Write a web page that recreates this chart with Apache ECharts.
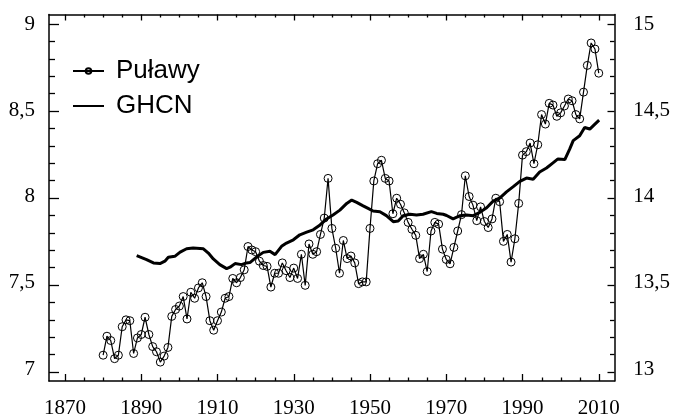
<!DOCTYPE html>
<html>
<head>
<meta charset="utf-8">
<script src="https://cdn.jsdelivr.net/npm/echarts@6/dist/echarts.min.js"></script>
<style>html,body{margin:0;padding:0;background:#fff}#c{width:673px;height:419px}</style>
</head>
<body>
<div id="c"></div>
<script>
// ---- data ----
const pulawyYears = [];
for (let y = 1880; y <= 2010; y++) pulawyYears.push(y);
const pulawyValues = [
  7.08, 7.19, 7.165, 7.06, 7.08, 7.245, 7.285, 7.28, 7.09, 7.18,
  7.20, 7.30, 7.20, 7.13, 7.10, 7.04, 7.075, 7.125, 7.305, 7.345,
  7.365, 7.42, 7.29, 7.445, 7.41, 7.47, 7.50, 7.42, 7.28, 7.225,
  7.28, 7.33, 7.41, 7.42, 7.525, 7.50, 7.53, 7.575, 7.71, 7.69,
  7.68, 7.625, 7.60, 7.595, 7.475, 7.555, 7.555, 7.615, 7.57, 7.53,
  7.585, 7.525, 7.665, 7.485, 7.725, 7.665, 7.68, 7.78, 7.875, 8.105,
  7.815, 7.70, 7.555, 7.745, 7.64, 7.655, 7.615, 7.495, 7.505, 7.505,
  7.815, 8.09, 8.19, 8.21, 8.105, 8.09, 7.90, 7.99, 7.955, 7.905,
  7.85, 7.81, 7.775, 7.64, 7.665, 7.565, 7.80, 7.85, 7.84, 7.695,
  7.635, 7.61, 7.705, 7.80, 7.895, 8.12, 8.00, 7.95, 7.86, 7.94,
  7.855, 7.82, 7.87, 7.99, 7.97, 7.74, 7.78, 7.62, 7.755, 7.96,
  8.24, 8.26, 8.31, 8.19, 8.30, 8.475, 8.42, 8.54, 8.53, 8.465,
  8.485, 8.525, 8.565, 8.555, 8.475, 8.45, 8.605, 8.76, 8.89, 8.855,
  8.715
];
const ghcnYears = [
  1888.8, 1891.4, 1893.2, 1894.9, 1896.2, 1897.1, 1898.8, 1900.2, 1901.9, 1903.6,
  1906.3, 1907.6, 1908.9, 1910.6, 1912.4, 1913.3, 1914.6, 1916.3, 1917.6, 1918.5,
  1920.3, 1922.0, 1923.75, 1925.1, 1926.8, 1928.1, 1929.9, 1931.6, 1933.4, 1935.1,
  1936.9, 1938.6, 1940.3, 1942.1, 1943.9, 1945.2, 1946.5, 1948.2, 1949.5, 1950.8,
  1952.6, 1954.3, 1956.1, 1957.4, 1958.7, 1960.5, 1962.2, 1963.9, 1966.1, 1967.5,
  1969.2, 1970.1, 1971.8, 1973.6, 1975.3, 1977.1, 1978.8, 1980.6, 1982.3, 1984.1,
  1985.8, 1987.5, 1989.3, 1991.05, 1992.8, 1994.5, 1996.3, 1998.0, 1999.3, 2001.1,
  2002.4, 2003.3, 2005.0, 2006.3, 2007.65, 2009.0, 2010.1
];
const ghcnValues = [
  13.657, 13.634, 13.615, 13.611, 13.625, 13.648, 13.653, 13.678, 13.697, 13.701,
  13.697, 13.672, 13.638, 13.605, 13.582, 13.59, 13.611, 13.605, 13.615, 13.617,
  13.65, 13.676, 13.682, 13.663, 13.711, 13.73, 13.749, 13.778, 13.793, 13.807,
  13.835, 13.87, 13.893, 13.921, 13.96, 13.979, 13.966, 13.946, 13.931, 13.916,
  13.912, 13.889, 13.854, 13.858, 13.889, 13.897, 13.893, 13.897, 13.912, 13.902,
  13.897, 13.89, 13.87, 13.889, 13.893, 13.889, 13.908, 13.935, 13.973, 13.992,
  14.027, 14.056, 14.088, 14.107, 14.10, 14.142, 14.165, 14.195, 14.218, 14.214,
  14.276, 14.324, 14.352, 14.40, 14.391, 14.42, 14.443
];
const xTickLabels = [1870, 1890, 1910, 1930, 1950, 1970, 1990, 2010];
const leftTickLabels = [7, 7.5, 8, 8.5, 9];
const rightTickLabels = [13, 13.5, 14, 14.5, 15];

// ---- layout ----
// frame grid (slightly larger than the labelled range)
const X_MIN = 1865.8, X_MAX = 2014.07;
const YL_MIN = 6.948, YL_MAX = 9.0546;
const YR_MIN = 12.948, YR_MAX = 15.0546;

const xMinor = [];
for (let y = 1870; y <= 2010; y += 5) if (xTickLabels.indexOf(y) < 0) xMinor.push(y);
function minorOf(lo, majors) {
  const out = [];
  for (let i = 0; i <= 20; i++) {
    const v = Math.round((lo + i * 0.1) * 10) / 10;
    if (majors.indexOf(v) < 0) out.push(v);
  }
  return out;
}
const leftMinor = minorOf(7, leftTickLabels);
const rightMinor = minorOf(13, rightTickLabels);

const serif = 'Liberation Serif';
const sans = 'Liberation Sans';
const fmt = v => String(v).replace('.', ',');
const black = '#000';

// frame axes: lines + ticks, no labels (grid 1)
function frameAxis(pos, min, max, ticks, len, showLine) {
  return {
    type: 'value', gridIndex: 1, position: pos, min: min, max: max, offset: 0,
    axisLine: { show: showLine, onZero: false, lineStyle: { color: black, width: 1.5 } },
    axisTick: { show: true, inside: true, length: len, customValues: ticks, lineStyle: { color: black, width: 1.3 } },
    axisLabel: { show: false },
    splitLine: { show: false }
  };
}
// data axes: labels only (grid 0, spans exactly the labelled range)
function dataAxis(pos, labels, interval, margin) {
  return {
    type: 'value', gridIndex: 0, position: pos,
    min: labels[0], max: labels[labels.length - 1], interval: interval,
    axisLine: { show: false, onZero: false },
    axisTick: { show: false },
    axisLabel: { show: true, formatter: fmt, margin: margin,
      fontFamily: serif, fontSize: 21, color: black },
    splitLine: { show: false }
  };
}

const chart = echarts.init(document.getElementById('c'));
chart.setOption({
  animation: false,
  backgroundColor: '#fff',
  grid: [
    { left: 65, right: 74, top: 24, bottom: 47, containLabel: false },
    { left: 49, right: 58.5, top: 14.5, bottom: 38, containLabel: false }
  ],
  xAxis: [
    dataAxis('bottom', xTickLabels, 20, 29),
    frameAxis('bottom', X_MIN, X_MAX, xTickLabels, 7, true),
    frameAxis('bottom', X_MIN, X_MAX, xMinor, 3.5, false),
    frameAxis('top', X_MIN, X_MAX, xTickLabels, 6, true),
    frameAxis('top', X_MIN, X_MAX, xMinor, 3, false)
  ],
  yAxis: [
    dataAxis('left', leftTickLabels, 0.5, 30),
    dataAxis('right', rightTickLabels, 0.5, 34.5),
    frameAxis('left', YL_MIN, YL_MAX, leftTickLabels, 10, true),
    frameAxis('left', YL_MIN, YL_MAX, leftMinor, 6, false),
    frameAxis('right', YR_MIN, YR_MAX, rightTickLabels, 7, true),
    frameAxis('right', YR_MIN, YR_MAX, rightMinor, 4.5, false)
  ],
  legend: {
    orient: 'vertical', left: 72, top: 53.5, padding: 0,
    itemWidth: 31, itemHeight: 7, itemGap: 0,
    textStyle: { fontFamily: sans, fontSize: 26, color: black, lineHeight: 26, padding: [9, 0, 0, 7] },
    data: [
      { name: 'Puławy' },
      { name: 'GHCN', itemStyle: { color: 'rgba(0,0,0,0)', borderWidth: 0 } }
    ]
  },
  series: [
    {
      name: 'Puławy', type: 'line', xAxisIndex: 0, yAxisIndex: 0, clip: false,
      data: pulawyYears.map((y, i) => [y, pulawyValues[i]]),
      symbol: 'circle', symbolSize: 8, showAllSymbol: true,
      itemStyle: { color: 'rgba(0,0,0,0)', borderColor: black, borderWidth: 1 },
      lineStyle: { color: black, width: 1.2 },
      z: 3
    },
    {
      name: 'GHCN', type: 'line', xAxisIndex: 0, yAxisIndex: 1, clip: false,
      data: ghcnYears.map((y, i) => [y, ghcnValues[i]]),
      symbol: 'none',
      itemStyle: { color: black },
      lineStyle: { color: black, width: 3 },
      z: 2
    }
  ]
});
</script>
</body>
</html>
